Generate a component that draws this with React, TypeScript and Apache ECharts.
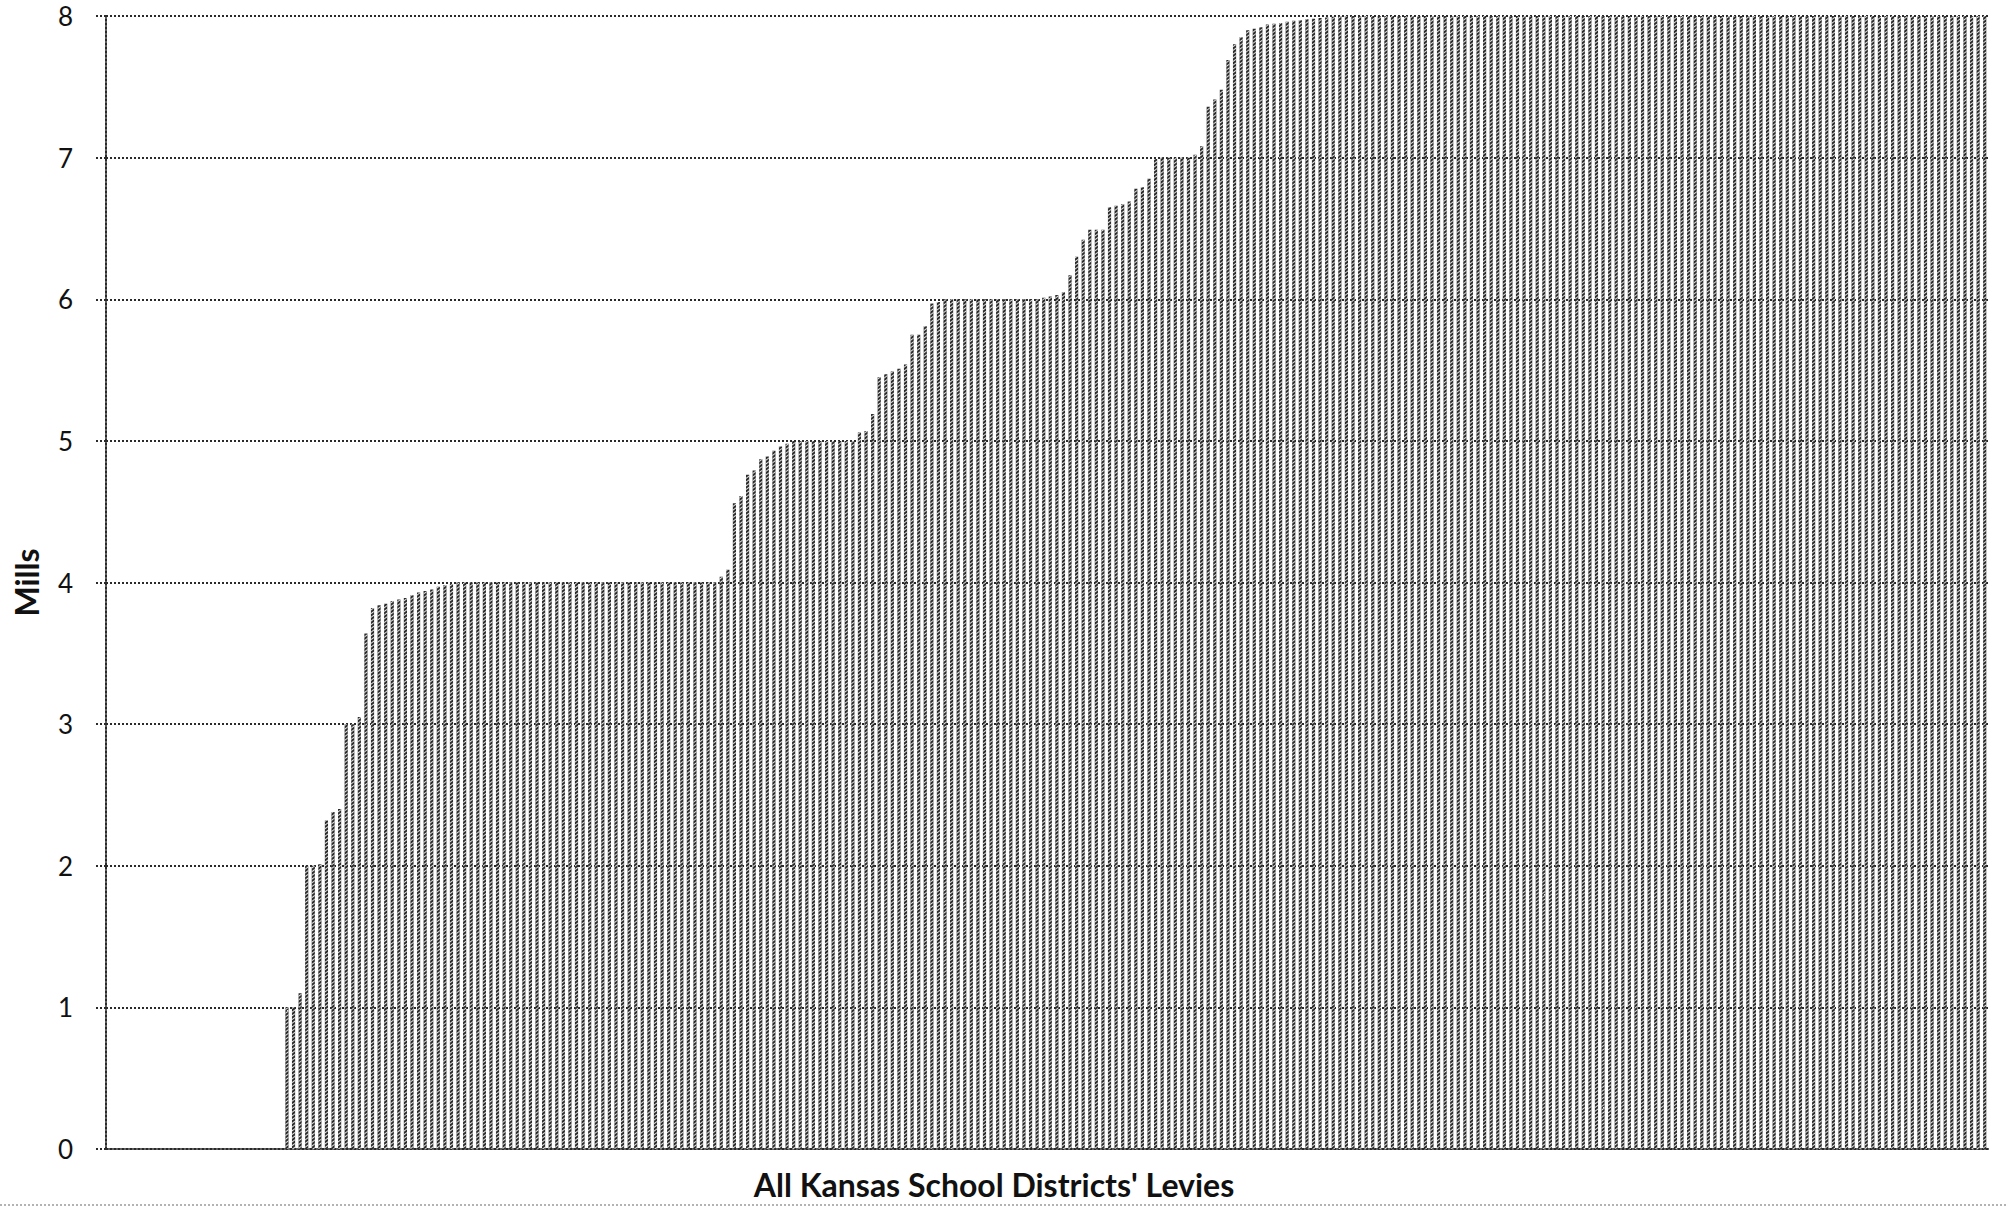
import { useEffect, useRef } from "react";
import * as echarts from "echarts";

// Districts that levy nothing (27)
const noLevy = [
  0, 0, 0, 0, 0, 0, 0, 0, 0, 0, 0, 0, 0, 0, 0, 0, 0, 0, 0, 0,
  0, 0, 0, 0, 0, 0, 0,
];
// Rise from 1 to 4 mills (26)
const riseToFour = [
  1.0, 1.0, 1.1, 2.0, 2.0, 2.01, 2.32, 2.38, 2.4, 3.0, 3.0, 3.05, 3.64,
  3.82, 3.84, 3.85, 3.87, 3.88, 3.89, 3.91, 3.93, 3.94, 3.95, 3.97, 3.98, 3.99,
];
// Plateau at 4 mills (40)
const atFour = [
  4, 4, 4, 4, 4, 4, 4, 4, 4, 4, 4, 4, 4, 4, 4, 4, 4, 4, 4, 4,
  4, 4, 4, 4, 4, 4, 4, 4, 4, 4, 4, 4, 4, 4, 4, 4, 4, 4, 4, 4,
];
// Rise to 5 and plateau at 5 (21)
const riseToFive = [
  4.04, 4.09, 4.56, 4.61, 4.76, 4.79, 4.87, 4.89, 4.93, 4.96, 4.98,
  5, 5, 5, 5, 5, 5, 5, 5, 5, 5,
];
// Rise to 6 and plateau at 6 (28)
const riseToSix = [
  5.06, 5.07, 5.19, 5.45, 5.47, 5.49, 5.51, 5.54, 5.75, 5.75, 5.81, 5.97, 5.98,
  6, 6, 6, 6, 6, 6, 6, 6, 6, 6, 6, 6, 6, 6, 6,
];
// Rise through 7 towards 8 (45)
const riseToEight = [
  6.01, 6.02, 6.03, 6.05, 6.17, 6.3, 6.42, 6.49, 6.49, 6.49, 6.65, 6.66, 6.67,
  6.69, 6.78, 6.79, 6.85, 6.99, 7, 7, 7, 7, 7, 7.02, 7.08, 7.36, 7.41, 7.48,
  7.69, 7.8, 7.85, 7.9, 7.91, 7.92, 7.94, 7.945, 7.95, 7.96, 7.967, 7.97,
  7.977, 7.98, 7.985, 7.99, 7.995,
];
// Districts at the 8 mill cap (99)
const atEight = [
  8, 8, 8, 8, 8, 8, 8, 8, 8, 8, 8, 8, 8, 8, 8, 8, 8, 8, 8, 8,
  8, 8, 8, 8, 8, 8, 8, 8, 8, 8, 8, 8, 8, 8, 8, 8, 8, 8, 8, 8,
  8, 8, 8, 8, 8, 8, 8, 8, 8, 8, 8, 8, 8, 8, 8, 8, 8, 8, 8, 8,
  8, 8, 8, 8, 8, 8, 8, 8, 8, 8, 8, 8, 8, 8, 8, 8, 8, 8, 8, 8,
  8, 8, 8, 8, 8, 8, 8, 8, 8, 8, 8, 8, 8, 8, 8, 8, 8, 8, 8,
];

const levies = [
  ...noLevy,
  ...riseToFour,
  ...atFour,
  ...riseToFive,
  ...riseToSix,
  ...riseToEight,
  ...atEight,
];
const districts = levies.map((_, i) => `District ${i + 1}`);

const yMin = 0;
const yMax = 8;
const yStep = 1;

const yTitle = "Mills";
const xTitle = "All Kansas School Districts' Levies";

export default function App() {
  const ref = useRef<HTMLDivElement>(null);

  useEffect(() => {
    if (!ref.current) return;
    const chart = echarts.init(ref.current, null, { renderer: "svg" });
    const dotted = { color: "#2a2a2a", width: 2, type: [2, 2] as number[] };
    chart.setOption({
      animation: false,
      backgroundColor: "#ffffff",
      grid: {
        left: 106,
        right: 19,
        top: 16,
        bottom: 59,
        containLabel: false,
        outerBoundsMode: "none",
      },
      xAxis: {
        type: "category",
        data: districts,
        boundaryGap: true,
        axisLine: { show: true, lineStyle: dotted },
        axisTick: { show: false },
        axisLabel: { show: false },
        splitLine: { show: false },
        name: xTitle,
        nameLocation: "middle",
        nameGap: 19,
        nameTextStyle: {
          fontFamily: "Lato, sans-serif",
          fontWeight: "bold",
          fontSize: 32,
          color: "#111",
          padding: [0, 106, 0, 0],
        },
      },
      yAxis: {
        type: "value",
        min: yMin,
        max: yMax,
        interval: yStep,
        axisLine: { show: true, lineStyle: dotted },
        axisTick: { show: true, length: 10, lineStyle: dotted },
        axisLabel: {
          margin: 33,
          fontFamily: "Lato, sans-serif",
          fontSize: 26,
          color: "#111",
        },
        splitLine: { show: true, lineStyle: dotted },
        name: yTitle,
        nameLocation: "middle",
        nameGap: 64,
        nameTextStyle: {
          fontFamily: "Lato, sans-serif",
          fontWeight: "bold",
          fontSize: 32,
          color: "#111",
        },
      },
      series: [
        {
          type: "bar",
          data: levies,
          barWidth: "48%",
          itemStyle: {
            color: "#2b2b2b",
            decal: {
              symbol: "rect",
              symbolSize: 1,
              color: "rgba(255,255,255,0.85)",
              dashArrayX: [[1, 0]],
              dashArrayY: [1, 2],
              rotation: -Math.PI / 5,
            },
          },
          emphasis: { disabled: true },
        },
      ],
      graphic: [
        {
          type: "line",
          shape: { x1: 0, y1: 1205, x2: 2007, y2: 1205 },
          style: { stroke: "#9a9a9a", lineWidth: 1.5, lineDash: [2, 2] },
          silent: true,
        },
      ],
    });
    return () => chart.dispose();
  }, []);

  return (
    <div
      ref={ref}
      style={{ position: "absolute", left: 0, top: 0, width: 2007, height: 1208 }}
    />
  );
}
